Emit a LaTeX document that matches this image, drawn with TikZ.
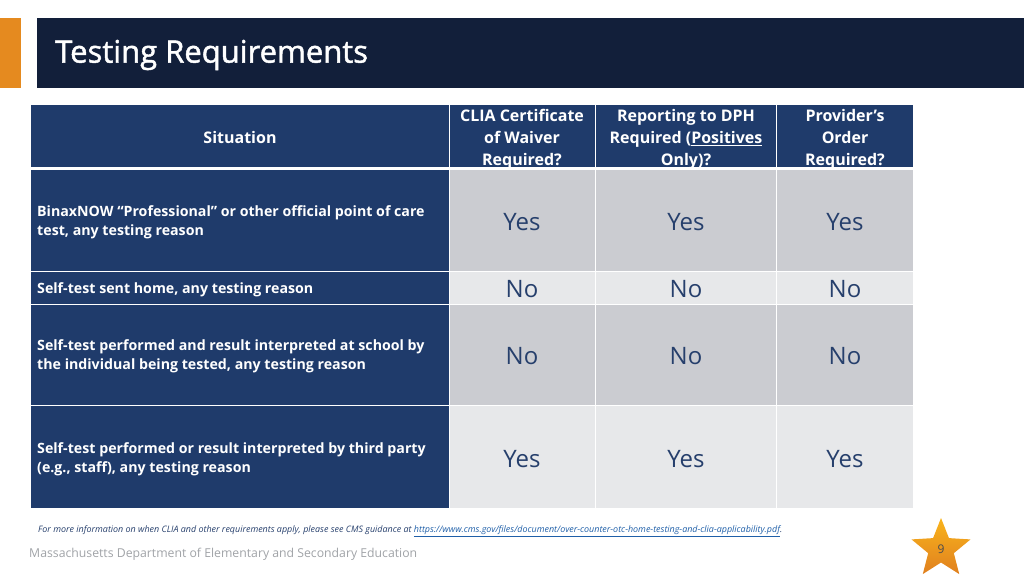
\documentclass[tikz,border=0pt]{standalone}
\usepackage{fontspec}
\usepackage{xcolor}
\setmainfont{Open Sans}
\newfontfamily\titlefont[FakeBold=1.5]{Open Sans}
\usetikzlibrary{shapes.geometric}
\definecolor{titlenavy}{HTML}{121F3A}
\definecolor{tablenavy}{HTML}{1F3B6B}
\definecolor{darkcell}{HTML}{CBCCD1}
\definecolor{lightcell}{HTML}{E7E8EA}
\definecolor{tabbar}{HTML}{E58A1F}
\definecolor{yesno}{HTML}{263F6C}
\definecolor{linkblue}{HTML}{1F5FA8}
\definecolor{footgray}{HTML}{A0A3A7}
\definecolor{starhigh}{HTML}{F9B41C}
\definecolor{starlow}{HTML}{E0801F}
\tikzset{
headcell/.style={fill=tablenavy,draw=none},
headtext/.style={text=white,font=\fontsize{16}{22}\selectfont\bfseries,align=center,inner sep=0pt},
rowtext/.style={text=white,font=\fontsize{14.2}{19}\selectfont\bfseries,align=left,anchor=west,inner sep=0pt},
answer/.style={text=yesno,font=\fontsize{24}{28}\selectfont,inner sep=0pt}
}
\begin{document}
\begin{tikzpicture}[line cap=butt,line join=miter,x=1pt,y=-1pt]
\useasboundingbox (0,0) rectangle (1024,576);
% title band
\fill[tabbar] (0,18) rectangle (21,88);
\fill[titlenavy] (37,18) rectangle (1024,88);
\node[text=white,font=\titlefont\fontsize{31}{35}\selectfont,anchor=west,inner sep=0pt] (title) at (55,55) {Testing Requirements};
% header row
\fill[headcell] (31,105) rectangle (449,167);
\fill[headcell] (450,105) rectangle (595,167);
\fill[headcell] (596,105) rectangle (776,167);
\fill[headcell] (777,105) rectangle (913,167);
\node[headtext] (situation) at (240,137) {Situation};
\node[headtext] (clia) at (522,139) {CLIA Certificate\\of Waiver\\Required?};
\node[headtext] (dph) at (686,140) {Reporting to DPH\\Required (\underline{Positives}\\\underline{Only})?};
\node[headtext] (order) at (845,139) {Provider’s\\Order\\Required?};
% left column
\fill[headcell] (31,170) rectangle (449,271);
\fill[headcell] (31,272) rectangle (449,304);
\fill[headcell] (31,305) rectangle (449,405);
\fill[headcell] (31,406) rectangle (449,508);
\node[rowtext] (rowa) at (37,222) {BinaxNOW “Professional” or other official point of care\\test, any testing reason};
\node[rowtext] (rowb) at (37,290) {Self-test sent home, any testing reason};
\node[rowtext] (rowc) at (37,356) {Self-test performed and result interpreted at school by\\the individual being tested, any testing reason};
\node[rowtext] (rowd) at (37,459) {Self-test performed or result interpreted by third party\\(e.g., staff), any testing reason};
% answer cells
\fill[darkcell] (450,170) rectangle (595,271);
\fill[darkcell] (596,170) rectangle (776,271);
\fill[darkcell] (777,170) rectangle (913,271);
\fill[lightcell] (450,272) rectangle (595,304);
\fill[lightcell] (596,272) rectangle (776,304);
\fill[lightcell] (777,272) rectangle (913,304);
\fill[darkcell] (450,305) rectangle (595,405);
\fill[darkcell] (596,305) rectangle (776,405);
\fill[darkcell] (777,305) rectangle (913,405);
\fill[lightcell] (450,406) rectangle (595,508);
\fill[lightcell] (596,406) rectangle (776,508);
\fill[lightcell] (777,406) rectangle (913,508);
\node[answer] (aa) at (522,222) {Yes};
\node[answer] (ab) at (686,222) {Yes};
\node[answer] (ac) at (845,222) {Yes};
\node[answer] (ba) at (522,289) {No};
\node[answer] (bb) at (686,289) {No};
\node[answer] (bc) at (845,289) {No};
\node[answer] (ca) at (522,356) {No};
\node[answer] (cb) at (686,356) {No};
\node[answer] (cc) at (845,356) {No};
\node[answer] (da) at (522,459) {Yes};
\node[answer] (db) at (686,459) {Yes};
\node[answer] (dc) at (845,459) {Yes};
% footer
\node[anchor=west,inner sep=0pt,text=yesno,font=\fontsize{8.93}{11}\selectfont\itshape] (note) at (38,531) {For more information on when CLIA and other requirements apply, please see CMS guidance at \textcolor{linkblue}{\underline{https://www.cms.gov/files/document/over-counter-otc-home-testing-and-clia-applicability.pdf}}.};
\node[anchor=west,inner sep=0pt,text=footgray,font=\fontsize{12.25}{15}\selectfont] (dept) at (29,554) {Massachusetts Department of Elementary and Secondary Education};
\node[star,star points=5,star point ratio=2.3,minimum size=62pt,inner sep=0pt,top color=starhigh,bottom color=starlow,draw=none,text=black!70,font=\fontsize{12}{14}\selectfont] (page) at (941,549) {9};
\end{tikzpicture}
\end{document}
